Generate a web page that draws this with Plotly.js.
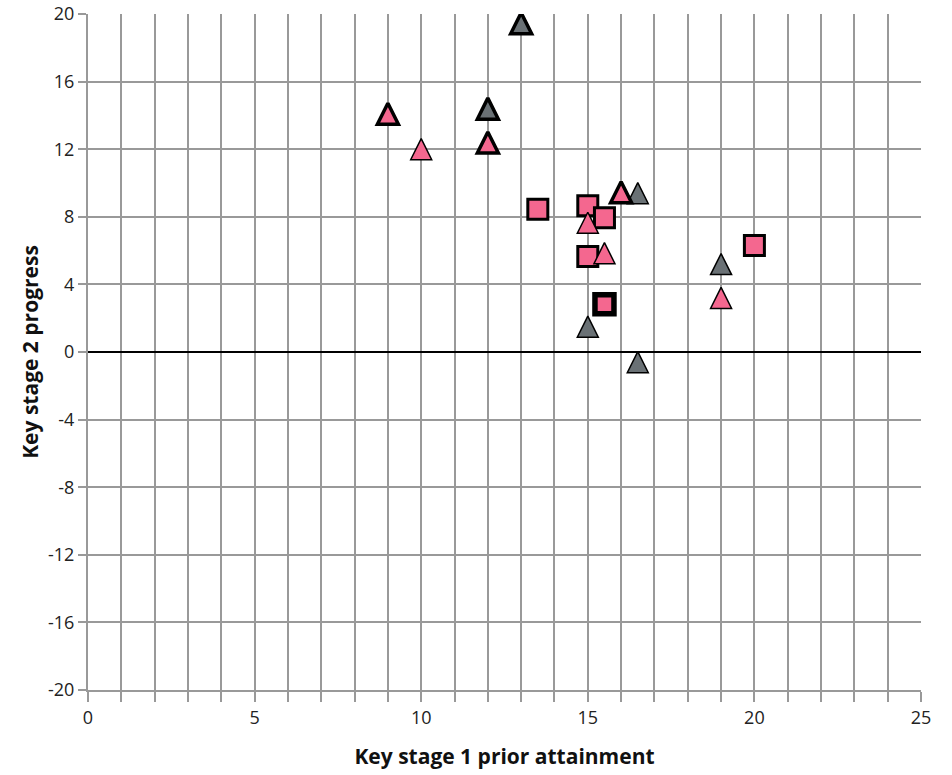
<!DOCTYPE html>
<html>
<head>
<meta charset="utf-8">
<script src="https://cdn.plot.ly/plotly-3.0.1.min.js"></script>
<style>html,body{margin:0;padding:0;background:#fff;}#chart{width:952px;height:775px;}</style>
</head>
<body>
<div id="chart"></div>
<script>
// Data
const grayTriX = [16.5, 19, 15, 16.5];
const grayTriY = [9.4, 5.2, 1.5, -0.6];
const pinkSqX = [13.5, 15, 15.5, 15, 20];
const pinkSqY = [8.45, 8.65, 7.95, 5.65, 6.3];
const pinkTriX = [10, 15, 15.5, 19];
const pinkTriY = [12.0, 7.65, 5.85, 3.2];
const pinkThickTriX = [9, 12, 16];
const pinkThickTriY = [14.1, 12.4, 9.45];
const grayThickTriX = [13, 12];
const grayThickTriY = [19.45, 14.4];
const pinkThickSqX = [15.5];
const pinkThickSqY = [2.82];

const xTickVals = [0, 5, 10, 15, 20, 25];
const xTickText = ['0', '5', '10', '15', '20', '25'];
const yTickVals = [-20, -16, -12, -8, -4, 0, 4, 8, 12, 16, 20];
const yTickText = ['-20', '-16', '-12', '-8', '-4', '0', '4', '8', '12', '16', '20'];

const xTitle = 'Key stage 1 prior attainment';
const yTitle = 'Key stage 2 progress';

const PINK = '#f4678f';
const GRAY = '#6a7175';
const TRI = 21;

function tri(x, y, color, lw) {
  return {x: x, y: y, type: 'scatter', mode: 'markers', hoverinfo: 'skip',
    marker: {symbol: 'arrow-down', angle: 180, size: TRI, standoff: TRI / 2, color: color,
      line: {color: '#000', width: lw}}};
}
function sq(x, y, lw, size) {
  return {x: x, y: y, type: 'scatter', mode: 'markers', hoverinfo: 'skip',
    marker: {symbol: 'square', size: size, color: PINK, line: {color: '#000', width: lw}}};
}

const data = [
  tri(grayTriX, grayTriY, GRAY, 1.5),
  sq(pinkSqX, pinkSqY, 3, 20),
  tri(pinkTriX, pinkTriY, PINK, 1.5),
  tri(pinkThickTriX, pinkThickTriY, PINK, 3.5),
  tri(grayThickTriX, grayThickTriY, GRAY, 3.5),
  sq(pinkThickSqX, pinkThickSqY, 5.5, 19)
];

const tickFont = {family: 'Open Sans', size: 18, color: '#222'};
const titleFont = {family: 'Open Sans', size: 21, color: '#111', weight: 'bold'};

const layout = {
  width: 952, height: 775,
  margin: {l: 88, r: 31, t: 14, b: 85},
  paper_bgcolor: '#fff', plot_bgcolor: '#fff',
  showlegend: false,
  xaxis: {
    range: [0, 25], tickmode: 'array', tickvals: xTickVals, ticktext: xTickText,
    showgrid: true, gridcolor: '#999', gridwidth: 2,
    zeroline: false,
    showline: true, linecolor: '#999', linewidth: 2, mirror: false,
    ticks: 'outside', ticklen: 10, tickwidth: 2, tickcolor: '#999',
    minor: {dtick: 1, tick0: 0, showgrid: true, gridcolor: '#999', gridwidth: 2, ticks: 'outside', ticklen: 10, tickwidth: 2, tickcolor: '#999'},
    tickfont: tickFont,
    title: {text: '<b>' + xTitle + '</b>', font: titleFont, standoff: 22},
    fixedrange: true
  },
  yaxis: {
    range: [-20, 20], tickmode: 'array', tickvals: yTickVals, ticktext: yTickText,
    showgrid: true, gridcolor: '#999', gridwidth: 2,
    zeroline: true, zerolinecolor: '#000', zerolinewidth: 2,
    showline: true, linecolor: '#999', linewidth: 2,
    ticks: 'outside', ticklen: 8, tickwidth: 2, tickcolor: '#999',
    tickfont: tickFont,
    title: {text: '<b>' + yTitle + '</b>', font: titleFont, standoff: 4},
    fixedrange: true
  }
};

Plotly.newPlot('chart', data, layout, {displayModeBar: false, staticPlot: true});
</script>
</body>
</html>
